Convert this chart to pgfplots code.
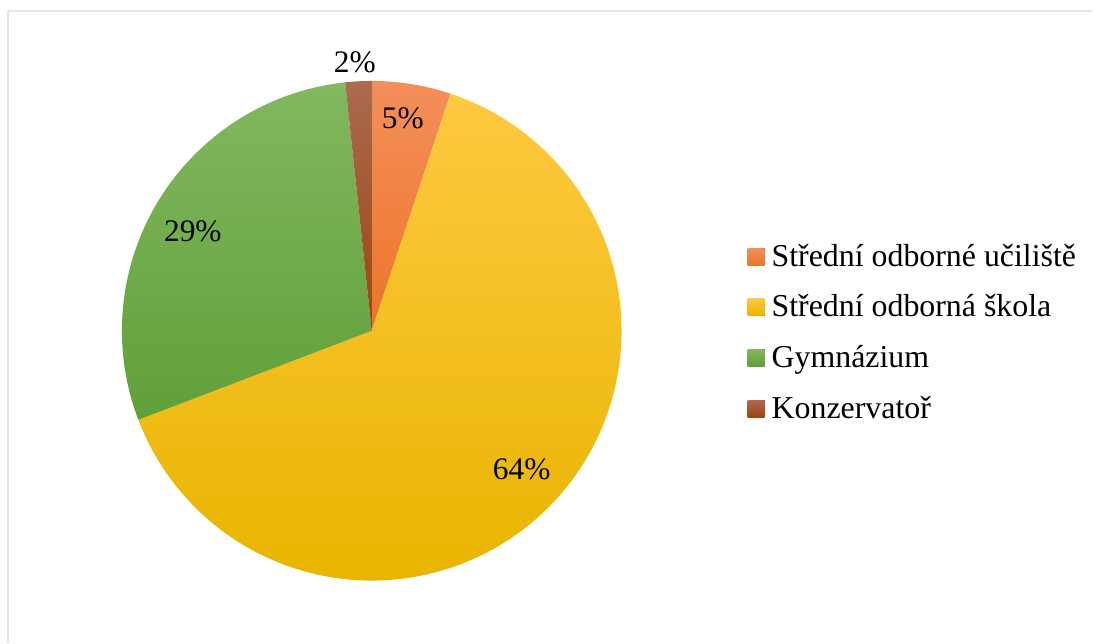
\documentclass[border=0pt]{standalone}
\usepackage{pgfplots}
\pgfplotsset{compat=1.18}
\usepackage{pgfplotstable}
\usepackage{fontspec}
\setmainfont{Liberation Serif}
\definecolor{frame}{HTML}{E1E4E9}
\definecolor{orT}{HTML}{F38F5B}
\definecolor{orB}{HTML}{EC7528}
\definecolor{yeT}{HTML}{FFC940}
\definecolor{yeB}{HTML}{E8B500}
\definecolor{grT}{HTML}{82B860}
\definecolor{grB}{HTML}{60A038}
\definecolor{brT}{HTML}{AC6A50}
\definecolor{brB}{HTML}{9C4610}
% shares in percent (start at 12 o'clock, clockwise)
% Stredni odborne uciliste 5.1, Stredni odborna skola 64.1, Gymnazium 29.1, Konzervator 1.7
\def\cx{372}\def\cy{312}\def\R{250}
\newcommand{\slice}[4]{%
  \addplot[draw=none, top color=#3, bottom color=#4, domain=#2:#1, samples=120]
    ({\cx+\R*cos(x)},{\cy+\R*sin(x)}) -- (axis cs:\cx,\cy) -- cycle;
}
\begin{document}
\begin{tikzpicture}
\begin{axis}[
  scale only axis, width=1093bp, height=643bp,
  xmin=0, xmax=1093, ymin=0, ymax=643,
  axis lines=none, clip=false,
  legend style={draw=none, fill=none, at={(axis cs:745,405)}, anchor=north west,
    font=\fontsize{32}{38}\selectfont, row sep=14.7bp,
    nodes={inner sep=2bp, text height=24bp, text depth=8bp, anchor=west},
    /tikz/every odd column/.style={column sep=5bp}},
  legend cell align=left,
  legend image code/.code={\fill[#1] (0bp,-7bp) rectangle (17bp,10bp);},
]
\path (axis cs:0,0) rectangle (axis cs:1093,643);
\draw[frame, line width=1.5bp] (axis cs:8,0) -- (axis cs:8,632) -- (axis cs:1093,632);
% angles: 90 -> 71.64 -> -159.12 -> -263.88 -> -270
\slice{90}{71.64}{orT}{orB}
\addlegendentry{Střední odborné učiliště}
\slice{71.64}{-159.12}{yeT}{yeB}
\addlegendentry{Střední odborná škola}
\slice{-159.12}{-263.88}{grT}{grB}
\addlegendentry{Gymnázium}
\slice{-263.88}{-270}{brT}{brB}
\addlegendentry{Konzervatoř}
\node[font=\fontsize{31.5}{37}\selectfont] at (axis cs:403,525) {5\%};
\node[font=\fontsize{31.5}{37}\selectfont] at (axis cs:522,173) {64\%};
\node[font=\fontsize{31.5}{37}\selectfont] at (axis cs:193,412) {29\%};
\node[font=\fontsize{31.5}{37}\selectfont] at (axis cs:355,581) {2\%};
\end{axis}
\end{tikzpicture}
\end{document}
